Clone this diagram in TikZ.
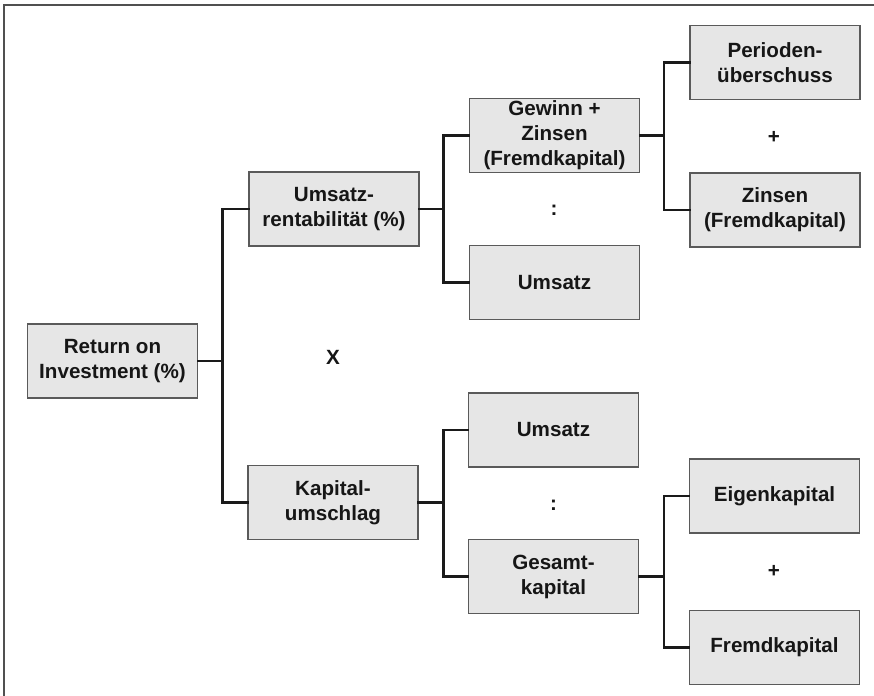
\documentclass[tikz,border=0pt]{standalone}
\usepackage{fontspec}
\setmainfont{Liberation Sans}
\definecolor{boxfill}{HTML}{E6E6E6}
\definecolor{boxline}{HTML}{5A5A5A}
\definecolor{txt}{HTML}{161616}
\definecolor{conncol}{HTML}{1A1A1A}
\definecolor{framecol}{HTML}{505050}
\begin{document}
\begin{tikzpicture}[x={(1pt,0pt)}, y={(0pt,-1pt)},
  kbox/.style={draw=boxline, line width=1.4pt, fill=boxfill, minimum width=170pt, minimum height=74pt,
    inner sep=0pt, align=center, text=txt, font=\fontsize{20.6}{25}\selectfont\bfseries},
  conn/.style={draw=conncol, line width=2.8pt, line cap=rect},
  op/.style={text=txt, font=\fontsize{20.6}{25}\selectfont\bfseries, inner sep=0pt}]
\useasboundingbox (0,0) rectangle (874,695);
\draw[framecol, line width=2pt] (4,700) -- (4,5) -- (880,5);
% nodes
\node[kbox] (roi) at (112.5,361) {Return on\\Investment (\%)};
\node[kbox] (ur) at (334,209) {Umsatz-\\rentabilität (\%)};
\node[kbox] (ku) at (333,502.5) {Kapital-\\umschlag};
\node[kbox] (gz) at (554.5,135.5) {Gewinn +\\Zinsen\\(Fremdkapital)};
\node[kbox] (u1) at (554.5,282.5) {Umsatz};
\node[kbox] (u2) at (553.5,430) {Umsatz};
\node[kbox] (gk) at (553.5,576.5) {Gesamt-\\kapital};
\node[kbox] (pu) at (775,62.5) {Perioden-\\überschuss};
\node[kbox] (zf) at (775,210) {Zinsen\\(Fremdkapital)};
\node[kbox] (ek) at (774.5,496) {Eigenkapital};
\node[kbox] (fk) at (774.5,647.5) {Fremdkapital};
% operators
\node[op] (opx) at (333,357) {X};
\node[op] (op1) at (554,210) {:};
\node[op] (op2) at (553.5,505) {:};
\node[op] (op3) at (774,137) {+};
\node[op] (op4) at (774,571) {+};
% junctions
\coordinate (j1) at (222.5,361);
\coordinate (j2) at (443.5,209);
\coordinate (j3) at (443.5,502.5);
\coordinate (j4) at (664,135.5);
\coordinate (j5) at (664,576.5);
% connectors
\draw[conn] (roi.east) -- (j1);
\draw[conn] (ur.west) -| (j1) |- (ku.west);
\draw[conn] (ur.east) -- (j2);
\draw[conn] (gz.west) -| (j2) |- (u1.west);
\draw[conn] (ku.east) -- (j3);
\draw[conn] (u2.west) -| (j3) |- (gk.west);
\draw[conn] (gz.east) -- (j4);
\draw[conn] (pu.west) -| (j4) |- (zf.west);
\draw[conn] (gk.east) -- (j5);
\draw[conn] (ek.west) -| (j5) |- (fk.west);
\end{tikzpicture}
\end{document}
